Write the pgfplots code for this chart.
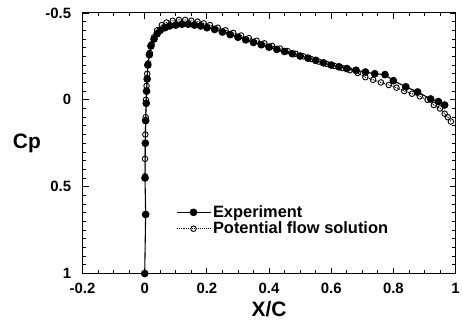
\documentclass[border=0pt]{standalone}
\usepackage{fontspec}
\setmainfont{Liberation Sans}
\usepackage{pgfplots}
\pgfplotsset{compat=1.18}
\begin{document}
\begin{tikzpicture}
\begin{axis}[
  scale only axis, width=375pt, height=262pt,
  xmin=-0.2, xmax=1, ymin=-0.5, ymax=1, y dir=reverse,
  xtick={-0.2,0,0.2,0.4,0.6,0.8,1}, ytick={-0.5,0,0.5,1},
  minor x tick num=3, minor y tick num=9,
  tick align=inside, tick pos=both,
  major tick length=6pt, minor tick length=3.5pt,
  every tick/.style={black, line width=0.8pt},
  axis line style={line width=1pt},
  /pgf/number format/assume math mode=true,
  /pgf/number format/fixed,
  ticklabel style={font=\fontsize{15}{17}\selectfont\bfseries},
  yticklabel style={xshift=-8pt},
  xticklabel style={yshift=-6pt},
  xlabel={X/C}, ylabel={Cp},
  label style={font=\fontsize{21}{24}\selectfont\bfseries},
  xlabel style={at={(0.5,0)}, anchor=center, yshift=-36pt},
  ylabel style={at={(0,0.5)}, rotate=-90, anchor=center, xshift=-56pt},
  legend style={draw=none, fill=none, at={(axis cs:0.1,0.695)}, anchor=west,
    font=\fontsize{16.5}{18.5}\selectfont\bfseries, row sep=-1pt,
    inner sep=0pt},
  legend cell align=left,
  legend image code/.code={
    \draw[mark repeat=2,mark phase=2,#1] plot coordinates {(0cm,0cm) (0.6cm,0cm) (1.2cm,0cm)};},
]
\addplot[black, line width=1.1pt, mark=*, mark size=3.3pt, mark options={solid, fill=black}] coordinates {
(0.000,1.00) (0.003,0.66) (0.001,0.45) (0.002,0.25) (0.003,0.12) (0.005,0.02)
(0.006,-0.05) (0.008,-0.12) (0.010,-0.20) (0.015,-0.26) (0.020,-0.31)
(0.030,-0.35) (0.040,-0.38) (0.050,-0.40) (0.065,-0.415) (0.080,-0.425)
(0.100,-0.43) (0.120,-0.435) (0.140,-0.435) (0.160,-0.43) (0.180,-0.425)
(0.200,-0.415) (0.225,-0.405) (0.250,-0.39) (0.275,-0.375) (0.300,-0.36)
(0.325,-0.345) (0.350,-0.33) (0.375,-0.317) (0.400,-0.303) (0.425,-0.29)
(0.450,-0.278) (0.475,-0.265) (0.500,-0.252) (0.525,-0.24) (0.550,-0.227)
(0.575,-0.213) (0.600,-0.20) (0.625,-0.19) (0.650,-0.18) (0.680,-0.17)
(0.710,-0.16) (0.740,-0.15) (0.773,-0.145) (0.800,-0.11) (0.840,-0.075)
(0.878,-0.045) (0.920,-0.005) (0.945,0.01) (0.965,0.03)
};
\addlegendentry{Experiment}
\addplot[black, densely dotted, line width=1pt, mark=o, mark size=2.8pt, mark options={solid, fill=white, line width=0.9pt}] coordinates {
(0.001,0.44) (0.001,0.34) (0.002,0.20) (0.003,0.10) (0.004,0.0) (0.006,-0.08)
(0.008,-0.15) (0.011,-0.21) (0.016,-0.27) (0.022,-0.32) (0.030,-0.36)
(0.040,-0.40) (0.055,-0.43) (0.070,-0.445) (0.090,-0.455) (0.110,-0.46)
(0.130,-0.46) (0.150,-0.455) (0.170,-0.45) (0.190,-0.44) (0.210,-0.43)
(0.235,-0.415) (0.260,-0.40) (0.285,-0.385) (0.310,-0.37) (0.335,-0.355)
(0.360,-0.34) (0.385,-0.325) (0.410,-0.31) (0.435,-0.295) (0.460,-0.28)
(0.485,-0.265) (0.510,-0.25) (0.535,-0.235) (0.560,-0.22) (0.585,-0.207)
(0.610,-0.195) (0.635,-0.183) (0.660,-0.17) (0.685,-0.155) (0.710,-0.13)
(0.735,-0.115) (0.760,-0.10) (0.785,-0.085) (0.810,-0.07) (0.835,-0.05)
(0.860,-0.035) (0.885,-0.02) (0.910,0.0) (0.930,0.03) (0.950,0.05)
(0.965,0.08) (0.975,0.10) (0.985,0.125)
};
\addlegendentry{Potential flow solution}
\end{axis}
\useasboundingbox (current axis.south west) ++(-83pt,-52pt) rectangle ([xshift=5pt,yshift=13pt]current axis.north east);
\end{tikzpicture}
\end{document}
